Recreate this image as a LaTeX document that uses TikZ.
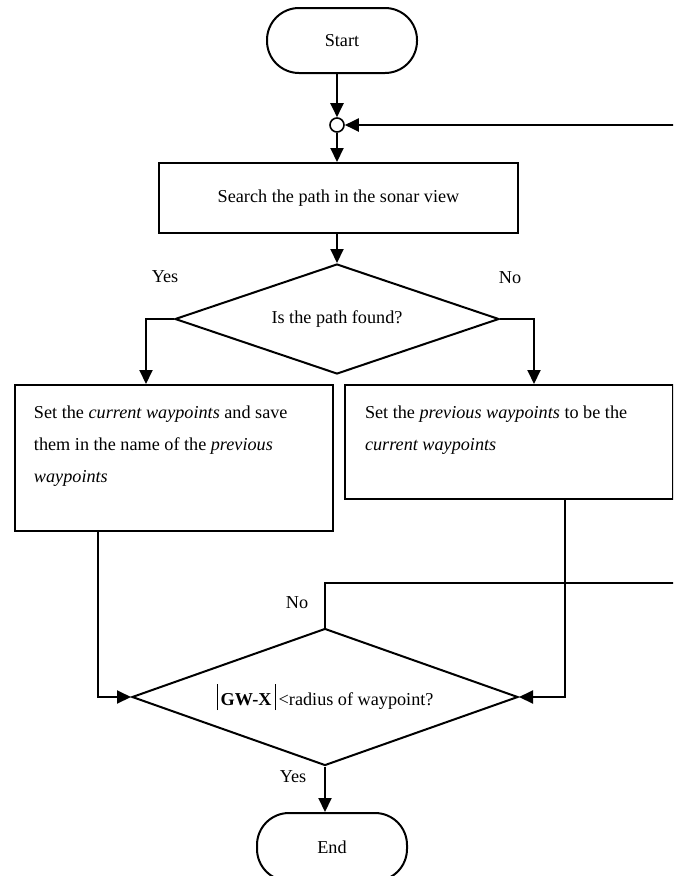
\documentclass[tikz,border=0pt]{standalone}
\usepackage{fontspec}
\setmainfont{Liberation Serif}
\usetikzlibrary{shapes.geometric,arrows.meta}
\newcommand{\absbar}{\rule[-5pt]{1.1pt}{26pt}}
\begin{document}
\begin{tikzpicture}[x=1pt,y=-1pt,line width=2pt,
  font=\fontsize{18.2}{32}\selectfont,
  arr/.style={-{Triangle[length=14pt,width=13pt]}},
  term/.style={draw,rectangle,rounded corners=32pt,minimum width=150,minimum height=65,inner sep=0},
  junc/.style={draw,circle,minimum size=14,inner sep=0,line width=1.6pt},
  proc/.style={draw,rectangle,inner sep=0},
  dec/.style={draw,diamond,aspect=3,inner sep=0},
  txt/.style={anchor=north west,align=left,inner sep=0},
  lbl/.style={inner sep=0}]
\useasboundingbox (0,0) rectangle (673,876);
\clip (0,0) rectangle (673,876);

\node[term] (start) at (342,40.5) {Start};
\node[junc] (circ) at (337,125) {};
\node[proc,minimum width=359,minimum height=70] (search) at (338.5,198) {Search the path in the sonar view};
\node[dec,minimum width=324,minimum height=110] (d1) at (337,319) {Is the path found?};
\node[proc,minimum width=318,minimum height=146,anchor=north west] (b1) at (14,384) {};
\node[proc,minimum width=328,minimum height=114,anchor=north west] (b2) at (344,384) {};
\node[txt] (t1) at (33,405) {Set the \textit{current waypoints} and save\\them in the name of the \textit{previous}\\\textit{waypoints}};
\node[txt] (t2) at (364,405) {Set the \textit{previous waypoints} to be the\\\textit{current waypoints}};
\node[dec,minimum width=386,minimum height=137] (d2) at (325,697) {\absbar\,\textbf{GW-X}\,\absbar\,<radius of waypoint?};
\node[term,minimum width=150,minimum height=68] (end) at (332,847) {End};

\node[lbl] (yes1) at (165,277) {Yes};
\node[lbl] (no1) at (510,278) {No};
\node[lbl] (no2) at (297,603) {No};
\node[lbl] (yes2) at (293,777) {Yes};

\draw[arr] (start.south -| circ) -- (circ.north);
\draw[arr] (circ.south) -- (circ.south |- search.north);
\draw[arr] (search.south -| d1.north) -- (d1.north);
\draw[arr] (d1.west) -| ([xshift=132]b1.north west);
\draw[arr] (d1.east) -| ([xshift=190]b2.north west);
\draw[arr] ([xshift=84]b1.south west) |- (d2.west);
\draw[arr] ([xshift=221]b2.south west) |- (d2.east);
\coordinate (loopa) at (690,583);
\draw[arr] (d2.north) -- (d2.north |- loopa) -- (loopa) |- (circ.east);
\draw[arr] (d2.south) -- (d2.south |- end.north);
\end{tikzpicture}
\end{document}
